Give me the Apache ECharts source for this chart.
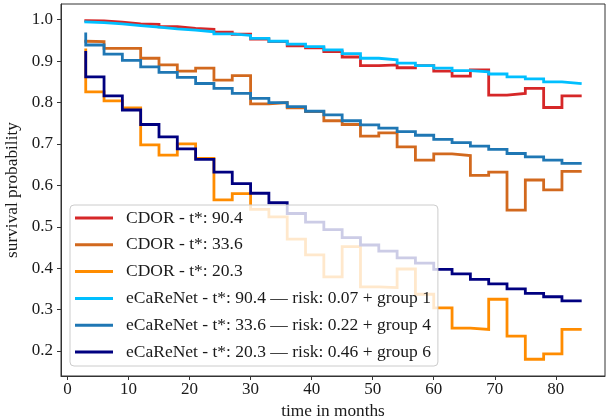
<!DOCTYPE html>
<html>
<head>
<meta charset="utf-8">
<script src="https://cdn.jsdelivr.net/npm/echarts@6/dist/echarts.min.js"></script>
<style>
  html, body { margin: 0; padding: 0; background: #fff; }
  #chart { width: 607px; height: 417px; }
</style>
</head>
<body>
<div id="chart"></div>
<script>
// ---- data ----
const times = [3, 6, 9, 12, 15, 18, 21, 24, 27, 30, 33, 36, 39, 42, 45, 48, 51, 54, 57, 60, 63, 66, 69, 72, 75, 78, 81, 84];

const cdor904 = [0.998, 0.997, 0.994, 0.990, 0.989, 0.983, 0.979, 0.977, 0.970, 0.965, 0.953, 0.947, 0.937, 0.932,
                 0.923, 0.910, 0.889, 0.891, 0.884, 0.889, 0.876, 0.864, 0.879, 0.818, 0.822, 0.834, 0.788, 0.816];
const cdor336 = [0.948, 0.947, 0.931, 0.931, 0.907, 0.891, 0.876, 0.883, 0.854, 0.865, 0.797, 0.800, 0.787, 0.778,
                 0.756, 0.747, 0.719, 0.727, 0.693, 0.661, 0.676, 0.672, 0.624, 0.632, 0.540, 0.613, 0.589, 0.634];
const cdor203 = [0.927, 0.826, 0.804, 0.787, 0.698, 0.673, 0.700, 0.665, 0.565, 0.580, 0.542, 0.524, 0.470, 0.432,
                 0.379, 0.452, 0.355, 0.353, 0.398, 0.337, 0.304, 0.255, 0.252, 0.325, 0.236, 0.180, 0.193, 0.252];
const ecare904 = [0.995, 0.993, 0.990, 0.986, 0.982, 0.978, 0.975, 0.971, 0.966, 0.962, 0.955, 0.948, 0.941, 0.935,
                  0.927, 0.918, 0.907, 0.903, 0.895, 0.889, 0.883, 0.877, 0.874, 0.869, 0.862, 0.857, 0.850, 0.846];
const ecare336 = [0.966, 0.939, 0.917, 0.902, 0.886, 0.873, 0.861, 0.846, 0.834, 0.822, 0.810, 0.800, 0.790, 0.779,
                  0.770, 0.756, 0.746, 0.738, 0.730, 0.721, 0.711, 0.703, 0.695, 0.687, 0.677, 0.669, 0.661, 0.653];
const ecare203 = [0.921, 0.862, 0.816, 0.782, 0.747, 0.717, 0.688, 0.663, 0.632, 0.604, 0.581, 0.558, 0.532, 0.511,
                  0.493, 0.474, 0.456, 0.441, 0.425, 0.412, 0.397, 0.386, 0.373, 0.362, 0.350, 0.339, 0.331, 0.321];

const seriesNames = [
  'CDOR - t*: 90.4',
  'CDOR - t*: 33.6',
  'CDOR - t*: 20.3',
  'eCaReNet - t*: 90.4 \u2014 risk: 0.07 + group 1',
  'eCaReNet - t*: 33.6 \u2014 risk: 0.22 + group 4',
  'eCaReNet - t*: 20.3 \u2014 risk: 0.46 + group 6'
];
const seriesValues = [cdor904, cdor336, cdor203, ecare904, ecare336, ecare203];

const xTicks = [0, 10, 20, 30, 40, 50, 60, 70, 80];
const yTicks = [0.2, 0.3, 0.4, 0.5, 0.6, 0.7, 0.8, 0.9, 1.0];

// ---- styles ----
const colors = ['#d62728', '#d2691e', '#ff8c00', '#00bfff', '#1f77b4', '#000080'];
const FONT = "'Liberation Serif', 'DejaVu Serif', serif";
const TEXT = '#1a1a1a';

const chart = echarts.init(document.getElementById('chart'), null, { renderer: 'canvas' });

const series = seriesValues.map((vals, i) => ({
  name: seriesNames[i],
  type: 'line',
  step: 'start',
  showSymbol: false,
  symbol: 'none',
  animation: false,
  color: colors[i],
  lineStyle: { width: 2.8, color: colors[i], join: 'miter', cap: 'square' },
  data: times.map((t, k) => [t, vals[k]])
}));

chart.setOption({
  animation: false,
  backgroundColor: '#ffffff',
  grid: {
    left: 61, right: 2, top: 4, bottom: 41,
    containLabel: false,
    outerBoundsMode: 'none',
    show: true, borderColor: '#333', borderWidth: 1, backgroundColor: 'transparent'
  },
  legend: {
    orient: 'vertical',
    left: 70, top: 205,
    padding: [3, 7, 4, 5],
    itemGap: 6.8,
    itemWidth: 38,
    itemHeight: 3,
    icon: 'rect',
    selectedMode: false,
    backgroundColor: 'rgba(255,255,255,0.8)',
    borderColor: '#cccccc',
    borderWidth: 1,
    borderRadius: 4,
    textStyle: { fontFamily: FONT, fontSize: 17.5, color: TEXT, lineHeight: 20, padding: [0, 0, 0, 8] },
    data: seriesNames
  },
  xAxis: {
    type: 'value',
    min: -1.05, max: 88.05,
    name: 'time in months',
    nameLocation: 'middle',
    nameGap: 22,
    nameTextStyle: { fontFamily: FONT, fontSize: 17.3, color: TEXT },
    axisLine: { show: true, onZero: false, lineStyle: { color: '#333', width: 1 } },
    axisTick: { show: true, length: 4, inside: false, customValues: xTicks, lineStyle: { color: '#333' } },
    axisLabel: { customValues: xTicks, margin: 5, fontFamily: FONT, fontSize: 17, color: TEXT,
                 formatter: v => String(v) },
    splitLine: { show: false }
  },
  yAxis: {
    type: 'value',
    min: 0.1396, max: 1.038,
    name: 'survival probability',
    nameLocation: 'middle',
    nameGap: 38,
    nameTextStyle: { fontFamily: FONT, fontSize: 17.3, color: TEXT },
    axisLine: { show: true, onZero: false, lineStyle: { color: '#333', width: 1 } },
    axisTick: { show: true, length: 4, inside: false, customValues: yTicks, lineStyle: { color: '#333' } },
    axisLabel: { customValues: yTicks, margin: 8, fontFamily: FONT, fontSize: 17, color: TEXT,
                 formatter: v => v.toFixed(1) },
    splitLine: { show: false }
  },
  series: series
});
</script>
</body>
</html>
